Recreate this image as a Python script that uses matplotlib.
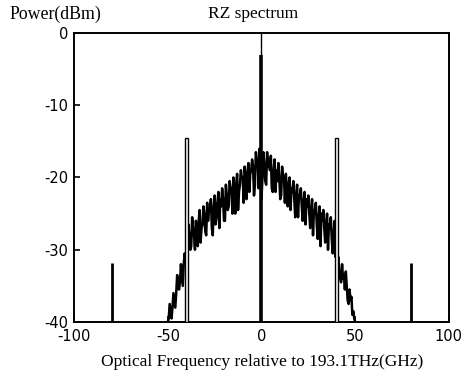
import matplotlib
matplotlib.use("Agg")
import matplotlib.pyplot as plt

plt.rcParams["axes.unicode_minus"] = False

# sideband spectrum, read at 1 GHz steps from -50 to 50 GHz (dBm)
freq_ghz = list(range(-50, 51))
power_dbm = [
    -40, -37.5, -39.5, -36, -38, -33.5, -35.5, -32, -35, -30.5,
    -31, -26.5, -30, -25.5, -28, -26, -29.5, -24.5, -27, -24,
    -27.5, -23.5, -24.5, -23, -28, -22.5, -25.5, -22, -23, -21.5,
    -26, -21, -24.5, -20.5, -21.5, -20, -25, -19.5, -22, -19,
    -20, -18.5, -23, -18, -19.5, -17.5, -22.5, -16.5, -18, -16,
    -23,
    -16.5, -20.5, -16.5, -17.5, -17, -22, -17.5, -19, -18, -23,
    -18.5, -20, -19.5, -24, -20, -21.5, -20.5, -25.5, -21, -22.5,
    -21.5, -26, -22, -23, -22.5, -27, -23, -24.5, -23.5, -28.5,
    -24, -25, -24.5, -29, -25, -26.5, -25.5, -30.5, -26, -30,
    -31, -34, -32, -33.5, -33, -37, -35.5, -36.5, -38.5, -40,
]

# in-between readings at the half-GHz points (-49.5 ... 49.5)
half_freq_ghz = [f + 0.5 for f in range(-50, 50)]
half_power_dbm = [
    -39.5, -38.5, -38, -37, -36, -35, -34.5, -33.5, -32, -31.5,
    -29, -28, -29.5, -27, -30, -27.5, -26, -29, -26.5, -25,
    -28, -26, -24.5, -27, -24, -26.5, -23.5, -27, -24, -23,
    -26, -22.5, -24, -21.5, -25, -22, -21, -24.5, -21, -20,
    -23.5, -20, -19.5, -22, -19, -18.5, -21, -17.5, -21.5, -19,
    -20, -18, -21, -18.5, -19, -21.5, -19, -22, -20.5, -20,
    -22.5, -20, -23.5, -21.5, -21, -24.5, -22, -23, -22.5, -25.5,
    -22.5, -24, -23.5, -26.5, -24, -25, -24.5, -28, -25, -26.5,
    -25.5, -29.5, -26, -27, -26.5, -30, -27, -28.5, -28, -31,
    -32, -33, -34.5, -34, -35.5, -35, -37.5, -37, -39, -39.5,
]

# discrete tones
carrier_freq = 0
carrier_level = -3.0
pilot_freqs = [-40, 40]
pilot_levels = [-14.5, -14.5]
outer_freqs = [-80, 80]
outer_levels = [-31.8, -31.8]

floor_db = -40

pts = sorted(zip(freq_ghz + half_freq_ghz, power_dbm + half_power_dbm))
spec_x = [p[0] for p in pts]
spec_y = [p[1] for p in pts]

fig = plt.figure(figsize=(4.75, 3.78), dpi=100)
ax = fig.add_axes([0.156, 0.148, 0.789, 0.765])

ax.plot(spec_x, spec_y, color="black", lw=1.8)
ax.bar(pilot_freqs, [p - floor_db for p in pilot_levels], bottom=floor_db,
       width=1.3, facecolor="white", edgecolor="black", lw=1.0, zorder=3)
ax.vlines(outer_freqs, floor_db, outer_levels, color="black", lw=2.0)
ax.vlines([carrier_freq], floor_db, [carrier_level], color="black", lw=2.6)
ax.vlines([carrier_freq], carrier_level, 0, color="black", lw=1.0)

ax.set_xlim(-100, 100)
ax.set_ylim(-40, 0)
ax.set_xticks([-100, -50, 0, 50, 100])
ax.set_yticks([0, -10, -20, -30, -40])
ax.tick_params(direction="in", length=4, width=1.2, labelsize=10.5,
               top=False, right=False, pad=4)
ax.tick_params(axis="x", pad=5)
for s in ax.spines.values():
    s.set_linewidth(1.4)

serif = "Liberation Serif"
fig.text(0.116, 0.962, "Power(dBm)", ha="center", va="center",
         family=serif, fontsize=12.8)
fig.text(0.533, 0.962, "RZ spectrum", ha="center", va="center",
         family=serif, fontsize=12.5)
fig.text(0.552, 0.042, "Optical Frequency relative to 193.1THz(GHz)",
         ha="center", va="center", family=serif, fontsize=12.5)

fig.savefig("out.png", dpi=100)
